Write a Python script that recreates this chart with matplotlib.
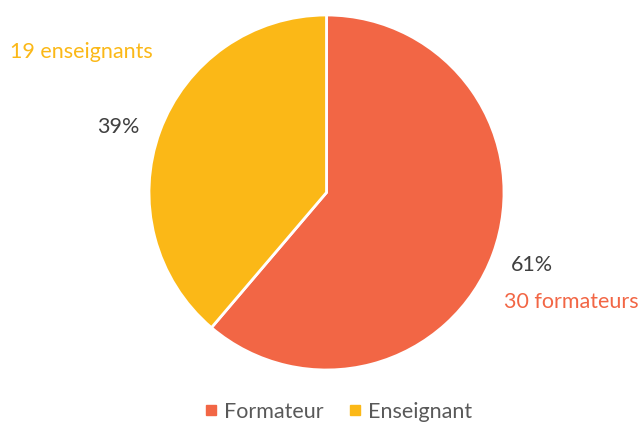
import matplotlib
matplotlib.use("Agg")
import matplotlib.pyplot as plt
from matplotlib.lines import Line2D

categories = ["Formateur", "Enseignant"]
counts = [30, 19]
percent_labels = ["61%", "39%"]
count_labels = ["30 formateurs", "19 enseignants"]
colors = ["#F26645", "#FBB817"]

plt.rcParams['font.family'] = ['Lato', 'DejaVu Sans']

W, H = 643, 423
fig = plt.figure(figsize=(W / 100, H / 100), dpi=100)
ax = fig.add_axes([0, 0, 1, 1])
ax.set_xlim(0, W)
ax.set_ylim(H, 0)
ax.set_aspect('equal')
ax.axis('off')

# y axis is inverted (pixel coords), so -90 / counterclock in data = top / clockwise on screen
wedges, _ = ax.pie(counts, colors=colors, startangle=-90, counterclock=True,
                   center=(326.5, 192.5), radius=177.5,
                   wedgeprops=dict(edgecolor='white', linewidth=2))
ax.set_xlim(0, W)
ax.set_ylim(H, 0)

fs = 15.5
# percent labels
ax.text(532, 265, percent_labels[0], ha='center', va='center', fontsize=fs, color='#404040')
ax.text(118, 127, percent_labels[1], ha='center', va='center', fontsize=fs, color='#404040')
# count labels
ax.text(571, 302, count_labels[0], ha='center', va='center', fontsize=fs, color=colors[0])
ax.text(81, 52, count_labels[1], ha='center', va='center', fontsize=fs, color=colors[1])

handles = [Line2D([0], [0], marker='s', linestyle='none', markersize=7.5,
                  markerfacecolor=c, markeredgecolor=c) for c in colors]
fig.legend(handles, categories, loc='center', bbox_to_anchor=(337 / W, 1 - 412 / H),
           ncol=2, frameon=False, fontsize=fs, labelcolor='#595959',
           handletextpad=0.15, columnspacing=1.0, handlelength=0.9)

fig.savefig("out.png", dpi=100)
